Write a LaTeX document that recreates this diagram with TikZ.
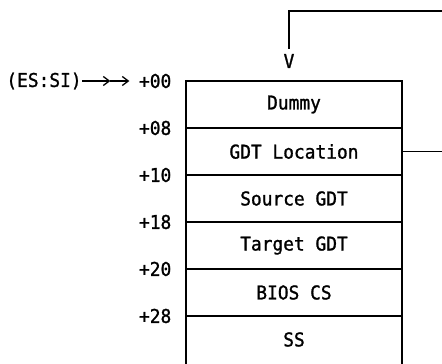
\documentclass[tikz,border=0pt]{standalone}
\usepackage{fontspec}
\setmonofont[FakeStretch=0.94,FakeBold=1.2]{DejaVu Sans Mono}
\usetikzlibrary{arrows.meta,positioning}

\begin{document}
\begin{tikzpicture}[
  x=1pt, y=1pt,
  font=\ttfamily\fontsize{19}{21}\selectfont,
  line width=1.4pt,
  %% ─── styles ───────────────────────────────────────────
  row/.style={
    draw=black, minimum width=216pt, minimum height=47pt,
    inner sep=0pt, outer sep=0pt},
  lastrow/.style={row, minimum height=70pt},
  offset/.style={inner sep=0pt},
  vmark/.style={inner sep=4pt},
  arr/.style={-{Straight Barb[length=6pt,width=9pt]}, line width=1.3pt},
  link/.style={line width=1.4pt}
]
  \useasboundingbox (0,0) rectangle (442,364);

  %% ═══════════════════════════════════════════════════════
  %%  descriptor table (stacked rows)
  %% ═══════════════════════════════════════════════════════
  \node[row] (dummy) at (294,259.5) {Dummy};
  \node[row, below=0pt of dummy] (gdt) {GDT Location};
  \node[row, below=0pt of gdt] (src) {Source GDT};
  \node[row, below=0pt of src] (tgt) {Target GDT};
  \node[row, below=0pt of tgt] (bioscs) {BIOS CS};
  \node[lastrow, anchor=north] (ss) at (bioscs.south) {};
  \node at ([yshift=-23.5pt]bioscs.south) {SS};

  %% ── offsets (left column) ─────────────────────────────
  \node[offset, left=14pt of dummy.north west] (off00) {+00};
  \node[offset, left=14pt of gdt.north west] (off08) {+08};
  \node[offset, left=14pt of src.north west] (off10) {+10};
  \node[offset, left=14pt of tgt.north west] (off18) {+18};
  \node[offset, left=14pt of bioscs.north west] (off20) {+20};
  \node[offset, left=14pt of ss.north west] (off28) {+28};

  %% ── ES:SI pointer ─────────────────────────────────────
  \node[offset, left=56pt of off00] (esi) {(ES:SI)};
  \coordinate (mid) at ([xshift=28pt]esi.east);
  \draw[arr] (esi.east) -- (mid);
  \draw[arr] (mid) -- ([xshift=-9pt]off00.west);

  %% ═══════════════════════════════════════════════════════
  %%  links to the GDT (leave the page on the right)
  %% ═══════════════════════════════════════════════════════
  \node[vmark] (vhead) at (289,303) {V};
  \coordinate (feedin) at (442,353);
  \draw[link] (feedin) -| (vhead.north);

  \coordinate (gdtout) at (442,212.5);
  \draw[link] (gdt.east) -- (gdtout);

\end{tikzpicture}
\end{document}
